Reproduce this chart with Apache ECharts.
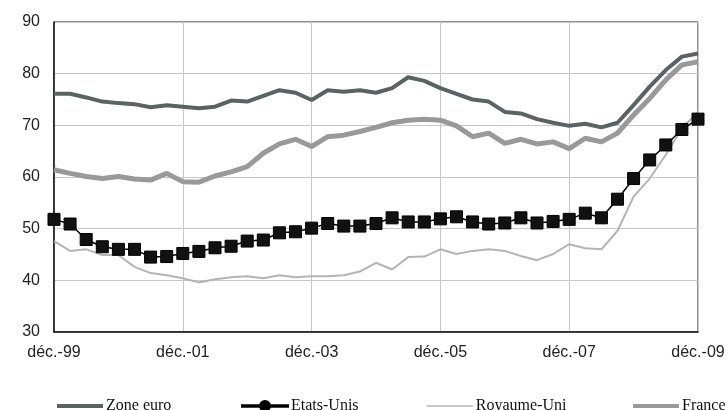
<!DOCTYPE html>
<html>
<head>
<meta charset="utf-8">
<script src="https://cdn.jsdelivr.net/npm/echarts@6/dist/echarts.min.js"></script>
<style>
html, body { margin: 0; padding: 0; background: #fff; }
#main { width: 728px; height: 410px; }
</style>
</head>
<body>
<div id="main"></div>
<script>
// trimestres, déc. 1999 -> déc. 2009
var quarters = [
    'déc.-99','mars-00','juin-00','sept.-00','déc.-00','mars-01','juin-01','sept.-01',
    'déc.-01','mars-02','juin-02','sept.-02','déc.-02','mars-03','juin-03','sept.-03',
    'déc.-03','mars-04','juin-04','sept.-04','déc.-04','mars-05','juin-05','sept.-05',
    'déc.-05','mars-06','juin-06','sept.-06','déc.-06','mars-07','juin-07','sept.-07',
    'déc.-07','mars-08','juin-08','sept.-08','déc.-08','mars-09','juin-09','sept.-09',
    'déc.-09'
];

var zoneEuro = [76.1, 76.1, 75.4, 74.6, 74.3, 74.1, 73.5, 73.9, 73.6, 73.3, 73.6, 74.8, 74.6,
    75.7, 76.8, 76.3, 74.9, 76.8, 76.5, 76.8, 76.3, 77.2, 79.3, 78.6, 77.2, 76.1, 75.0,
    74.6, 72.6, 72.3, 71.2, 70.5, 69.9, 70.3, 69.6, 70.5, 73.9, 77.5, 80.7, 83.3, 83.9];

var etatsUnis = [51.8, 50.9, 47.9, 46.5, 46.0, 46.0, 44.5, 44.6, 45.2, 45.6, 46.3, 46.6, 47.6,
    47.8, 49.2, 49.4, 50.1, 51.0, 50.5, 50.5, 51.0, 52.1, 51.3, 51.3, 51.9, 52.3, 51.3,
    50.9, 51.1, 52.1, 51.1, 51.4, 51.8, 53.0, 52.1, 55.7, 59.7, 63.3, 66.2, 69.2, 71.2];

var royaumeUni = [47.6, 45.7, 46.0, 44.9, 44.9, 42.6, 41.4, 41.0, 40.4, 39.6, 40.2, 40.6, 40.8,
    40.4, 41.0, 40.6, 40.8, 40.8, 41.0, 41.7, 43.4, 42.1, 44.5, 44.6, 46.0, 45.1, 45.7,
    46.0, 45.7, 44.7, 43.9, 45.1, 47.0, 46.2, 46.0, 49.6, 56.2, 59.7, 64.3, 69.4, 72.6];

var france = [61.4, 60.7, 60.1, 59.7, 60.1, 59.6, 59.4, 60.7, 59.1, 59.0, 60.2, 61.0, 62.0,
    64.6, 66.4, 67.3, 65.9, 67.8, 68.1, 68.8, 69.6, 70.5, 71.0, 71.2, 71.0, 69.9, 67.8,
    68.5, 66.5, 67.3, 66.4, 66.8, 65.5, 67.5, 66.8, 68.5, 72.0, 75.2, 78.8, 81.7, 82.3];

var yTicks = [30, 40, 50, 60, 70, 80, 90];

var chart = echarts.init(document.getElementById('main'));

function everyTwoYears(index) {
    return index % 8 === 0;
}

// ligne + rond pour la légende des Etats-Unis
var usIcon = 'path://M0,4.3H46V5.7H0Z M18,5a5,5 0 1,0 10,0a5,5 0 1,0 -10,0Z';

function legendAt(name, left, lineWidth, icon) {
    var item = { name: name };
    if (icon) {
        item.icon = icon;
        item.itemStyle = { color: '#000', opacity: 1 };
    }
    return {
        data: [item],
        left: left,
        top: 393,
        itemWidth: 46,
        itemHeight: 10,
        itemStyle: { opacity: icon ? 1 : 0 },
        lineStyle: { width: lineWidth },
        textStyle: { fontFamily: 'Liberation Serif', fontSize: 16, color: '#111', padding: [0, 0, 0, -2] }
    };
}

var option = {
    animation: false,
    backgroundColor: '#fff',
    legend: [
        legendAt('Zone euro', 50, 4),
        legendAt('Etats-Unis', 236, 1.5, usIcon),
        legendAt('Royaume-Uni', 421, 1.5),
        legendAt('France', 626, 4)
    ],
    grid: {
        left: 54,
        right: 30,
        top: 22,
        bottom: 78,
        show: true,
        borderColor: '#222',
        borderWidth: 1
    },
    xAxis: {
        type: 'category',
        data: quarters,
        boundaryGap: false,
        axisLine: { lineStyle: { color: '#111', width: 1.5 } },
        axisTick: { show: false },
        axisLabel: {
            interval: everyTwoYears,
            color: '#222',
            fontFamily: 'Liberation Sans',
            fontSize: 16,
            margin: 13
        },
        splitLine: {
            show: true,
            interval: everyTwoYears,
            lineStyle: { color: '#c8c8c8', width: 1 }
        }
    },
    yAxis: {
        type: 'value',
        min: yTicks[0],
        max: yTicks[yTicks.length - 1],
        interval: 10,
        axisLine: { show: true, lineStyle: { color: '#111', width: 1.5 } },
        axisTick: { show: false },
        axisLabel: {
            color: '#222',
            fontFamily: 'Liberation Sans',
            fontSize: 16,
            margin: 14
        },
        splitLine: { lineStyle: { color: '#c8c8c8', width: 1 } }
    },
    series: [
        {
            name: 'Zone euro',
            type: 'line',
            data: zoneEuro,
            symbol: 'none',
            color: '#5b6262',
            lineStyle: { color: '#5b6262', width: 4 },
            z: 3
        },
        {
            name: 'Etats-Unis',
            type: 'line',
            data: etatsUnis,
            symbol: 'rect',
            symbolSize: 12,
            showAllSymbol: true,
            color: '#000',
            itemStyle: { color: '#111', borderColor: '#000', borderWidth: 1 },
            lineStyle: { color: '#000', width: 1.5 },
            z: 5
        },
        {
            name: 'Royaume-Uni',
            type: 'line',
            data: royaumeUni,
            symbol: 'none',
            color: '#b4b4b4',
            lineStyle: { color: '#b4b4b4', width: 2 },
            z: 2
        },
        {
            name: 'France',
            type: 'line',
            data: france,
            symbol: 'none',
            color: '#999',
            lineStyle: { color: '#999', width: 5 },
            z: 4
        }
    ]
};

chart.setOption(option);
</script>
</body>
</html>
